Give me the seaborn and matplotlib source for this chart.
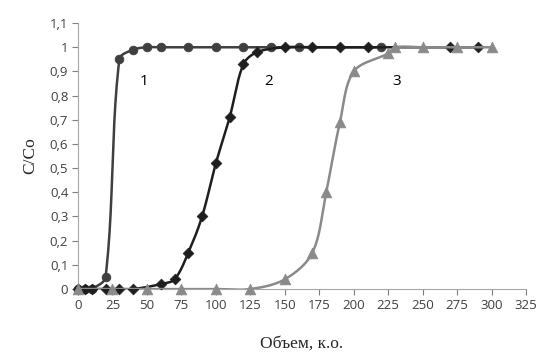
import numpy as np
import pandas as pd
import matplotlib
matplotlib.use("Agg")
import matplotlib.pyplot as plt
import seaborn as sns

# --- data ---
x1 = [0, 5, 10, 20, 30, 40, 50, 60, 80, 100, 120, 140, 160, 220]
y1 = [0, 0, 0, 0.05, 0.95, 0.99, 1, 1, 1, 1, 1, 1, 1, 1]
x2 = [0, 5, 10, 20, 30, 40, 60, 70, 80, 90, 100, 110, 120, 130, 150, 170, 190, 210, 270, 290]
y2 = [0, 0, 0, 0, 0, 0, 0.02, 0.04, 0.15, 0.30, 0.52, 0.71, 0.93, 0.98, 1, 1, 1, 1, 1, 1]
x3 = [0, 25, 50, 75, 100, 125, 150, 170, 180, 190, 200, 225, 230, 250, 275, 300]
y3 = [0, 0, 0, 0, 0, 0, 0.04, 0.15, 0.40, 0.69, 0.90, 0.975, 1, 1, 1, 1]
series_labels = ["1", "2", "3"]
label_pos_x = [48, 138, 231]
label_pos_y = [0.86, 0.86, 0.86]
xticks = list(range(0, 326, 25))
yticks = [round(0.1 * i, 1) for i in range(12)]

SX, SY = 1.378, 242.0  # approximate display scale used for smoothing


def smooth(xs, ys, n=24, t=1.0 / 3.0):
    # Bezier smoothing with tangents weighted by neighbouring segment lengths
    P = np.column_stack([np.asarray(xs, float) * SX, np.asarray(ys, float) * SY])
    N = len(P)
    out = []
    for i in range(N - 1):
        p0 = P[max(i - 1, 0)]; p1 = P[i]; p2 = P[i + 1]; p3 = P[min(i + 2, N - 1)]
        d01 = np.linalg.norm(p1 - p0); d12 = np.linalg.norm(p2 - p1); d23 = np.linalg.norm(p3 - p2)
        w1 = d12 / (d01 + d12) if d01 + d12 > 0 else 0
        w2 = d12 / (d12 + d23) if d12 + d23 > 0 else 0
        c1 = p1 + (p2 - p0) * t * w1
        c2 = p2 - (p3 - p1) * t * w2
        tt = np.linspace(0, 1, n, endpoint=(i == N - 2))[:, None]
        b = (1 - tt) ** 3 * p1 + 3 * (1 - tt) ** 2 * tt * c1 + 3 * (1 - tt) * tt ** 2 * c2 + tt ** 3 * p2
        out.append(b)
    b = np.vstack(out)
    return b[:, 0] / SX, b[:, 1] / SY


sns.set_style("white")
plt.rcParams["font.family"] = ["Open Sans", "DejaVu Sans"]

fig = plt.figure(figsize=(5.39, 3.61), dpi=100)
ax = fig.add_axes([0.1447, 0.1994, 0.8313, 0.7366])

colors = ["#3f3f3f", "#1e1e1e", "#8a8a8a"]
markers = ["o", "D", "^"]
msizes = [40, 30, 60]
data = [(x1, y1), (x2, y2), (x3, y3)]
for k, (xs, ys) in enumerate(data):
    sx, sy = smooth(xs, ys)
    df = pd.DataFrame({"x": sx, "y": sy})
    sns.lineplot(data=df, x="x", y="y", sort=False, estimator=None, ax=ax,
                 color=colors[k], linewidth=1.8, zorder=2 + 2 * k)
    dfm = pd.DataFrame({"x": xs, "y": ys})
    sns.scatterplot(data=dfm, x="x", y="y", ax=ax, color=colors[k], marker=markers[k],
                    s=msizes[k], edgecolor=colors[k], linewidth=0.5, zorder=3 + 2 * k,
                    clip_on=False)

for lab, lx, ly in zip(series_labels, label_pos_x, label_pos_y):
    ax.text(lx, ly, lab, fontsize=11, color="black", ha="center", va="center")

ax.set_xlim(0, 325)
ax.set_ylim(0, 1.1)
ax.set_xticks(xticks)
ax.set_xticklabels([str(v) for v in xticks])
ax.set_yticks(yticks)
ax.set_yticklabels([("%g" % v).replace(".", ",") for v in yticks])
ax.tick_params(axis="both", labelsize=9.5, colors="#7f7f7f", labelcolor="#404040",
               length=4, width=0.8, direction="out", pad=3)
ax.tick_params(axis="x", bottom=True)
ax.tick_params(axis="y", left=True)
for s in ["top", "right"]:
    ax.spines[s].set_visible(False)
for s in ["left", "bottom"]:
    ax.spines[s].set_color("#a6a6a6")
    ax.spines[s].set_linewidth(0.8)

ax.set_xlabel("Объем, к.о.", fontsize=12.5, family=["Liberation Serif", "DejaVu Serif"],
              labelpad=17)
ax.set_ylabel("C/Co", fontsize=12.5, family=["Liberation Serif", "DejaVu Serif"],
              labelpad=8)

fig.savefig("out.png", dpi=100)
